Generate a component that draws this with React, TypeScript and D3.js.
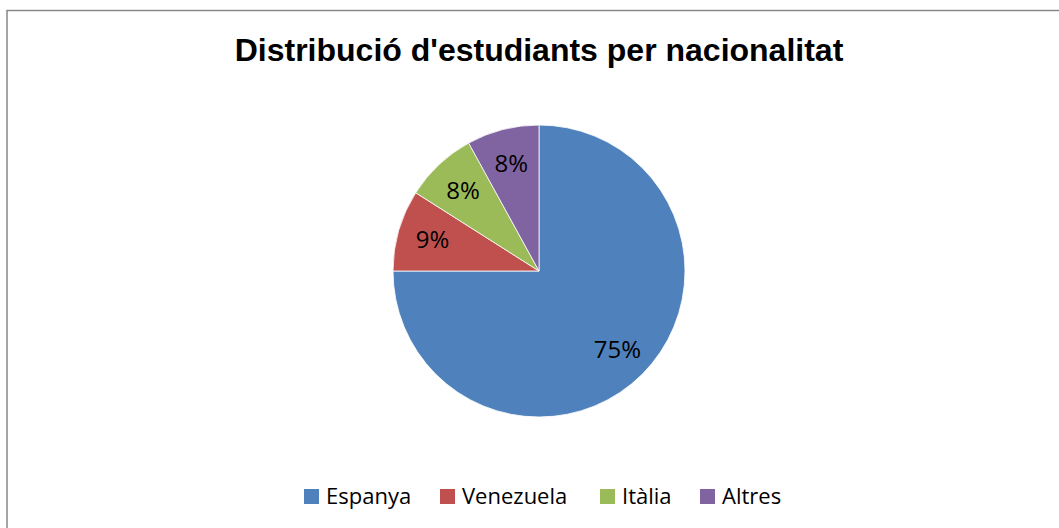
import React, { useRef, useEffect } from 'react';
import * as d3 from 'd3';

const title = "Distribució d'estudiants per nacionalitat";
const categories = ['Espanya', 'Venezuela', 'Itàlia', 'Altres'];
const values = [75, 9, 8, 8];
const colors = ['#4F81BD', '#C0504D', '#9BBB59', '#8064A2'];

const App = () => {
  const ref = useRef<SVGSVGElement>(null);

  useEffect(() => {
    const svg = d3.select(ref.current);
    svg.selectAll('*').remove();

    const W = 1059, H = 528;
    const cx = 539, cy = 271, R = 146;

    // chart frame (right and bottom edges fall outside the picture)
    svg.append('rect')
      .attr('x', 7).attr('y', 10.5)
      .attr('width', W + 20).attr('height', H + 20)
      .attr('fill', 'white')
      .attr('stroke', '#888').attr('stroke-width', 1.5);

    svg.append('text')
      .attr('x', 539).attr('y', 61)
      .attr('text-anchor', 'middle')
      .style('font-family', 'Liberation Sans, Arial, sans-serif')
      .style('font-weight', 'bold')
      .style('font-size', '32px')
      .text(title);

    const data = categories.map((c, i) => ({ name: c, value: values[i] }));
    const pie = d3.pie<{ name: string; value: number }>().value(d => d.value).sort(null);
    const arcs = pie(data);
    const arc = d3.arc<d3.PieArcDatum<{ name: string; value: number }>>().innerRadius(0).outerRadius(R);
    const labelArc = d3.arc<d3.PieArcDatum<{ name: string; value: number }>>().innerRadius(R * 0.76).outerRadius(R * 0.76);
    const color = d3.scaleOrdinal<string, string>().domain(categories).range(colors);
    const total = d3.sum(values);

    const g = svg.append('g').attr('transform', `translate(${cx},${cy})`);
    g.selectAll('path')
      .data(arcs)
      .join('path')
      .attr('d', arc)
      .attr('fill', d => color(d.data.name))
      .attr('stroke', 'white')
      .attr('stroke-width', 0.8);

    g.selectAll('text')
      .data(arcs)
      .join('text')
      .attr('transform', d => `translate(${labelArc.centroid(d)})`)
      .attr('text-anchor', 'middle')
      .attr('dy', '0.35em')
      .style('font-family', 'Open Sans, sans-serif')
      .style('font-size', '24px')
      .attr('fill', '#000')
      .text(d => Math.round((d.data.value / total) * 100) + '%');

    // legend
    const legendX = [304, 440, 600, 700];
    const lg = svg.append('g');
    categories.forEach((c, i) => {
      lg.append('rect')
        .attr('x', legendX[i]).attr('y', 489)
        .attr('width', 15).attr('height', 15)
        .attr('fill', colors[i]);
      lg.append('text')
        .attr('x', legendX[i] + 22).attr('y', 504)
        .style('font-family', 'Open Sans, sans-serif')
        .style('font-size', '22px')
        .text(c);
    });
  }, []);

  return (
    <svg ref={ref} width={1059} height={528}
      style={{ position: 'absolute', left: 0, top: 0, background: 'white' }} />
  );
};

export default App;
